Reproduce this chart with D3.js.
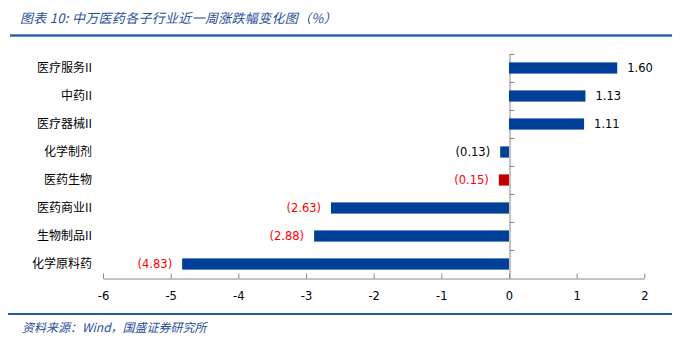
<!DOCTYPE html>
<html><head><meta charset="utf-8">
<script src="https://cdn.jsdelivr.net/npm/d3@7"></script>
<style>
html,body{margin:0;padding:0;background:#fff;}
svg{display:block;}
</style></head>
<body>
<svg id="chart" width="686" height="351"></svg>
<script>
const categories = ["医疗服务II","中药II","医疗器械II","化学制剂","医药生物","医药商业II","生物制品II","化学原料药"];
const values = [1.60, 1.13, 1.11, -0.13, -0.15, -2.63, -2.88, -4.83];
const barColors = ["#003f98","#003f98","#003f98","#003f98","#c00000","#003f98","#003f98","#003f98"];
const labelColors = ["#000","#000","#000","#000","#ff0000","#ff0000","#ff0000","#ff0000"];
const xTicks = [-6,-5,-4,-3,-2,-1,0,1,2];
const titleText = "图表 10:  中万医药各子行业近一周涨跌幅变化图（%）";
const sourceText = "资料来源：Wind，国盛证券研究所";

const svg = d3.select("#chart");
const x = d3.scaleLinear().domain([-6,2]).range([103,644.3]);
const y = d3.scaleBand().domain(categories).range([54,278]).paddingInner(0.6).paddingOuter(0.3);
const yb = d3.scaleBand().domain(categories).range([54,278]);

// title
svg.append("text").attr("x",20).attr("y",23)
  .attr("font-family","'Noto Sans CJK SC', sans-serif").attr("font-size",13)
  .attr("font-style","italic").attr("letter-spacing",0.3).attr("fill","#1f4e9a").text(titleText);
svg.append("line").attr("x1",10).attr("x2",672).attr("y1",35.5).attr("y2",35.5)
  .attr("stroke","#2f62ad").attr("stroke-width",2.5);

// bottom
svg.append("line").attr("x1",8).attr("x2",672).attr("y1",314).attr("y2",314)
  .attr("stroke","#1f5aa8").attr("stroke-width",2);
svg.append("text").attr("x",22).attr("y",332)
  .attr("font-family","'Noto Sans CJK SC', sans-serif").attr("font-size",12)
  .attr("font-style","italic").attr("fill","#1f4e9a").text(sourceText);

// x axis
const xAxis = d3.axisBottom(x).tickValues(xTicks).tickSizeInner(-5).tickSizeOuter(0).tickPadding(13)
  .tickFormat(d => String(d));
const gx = svg.append("g").attr("transform","translate(0,278.5)").call(xAxis);
gx.select(".domain").attr("stroke","#888");
gx.selectAll(".tick line").attr("stroke","#888");
gx.selectAll(".tick text").attr("font-family","'DejaVu Sans', sans-serif").attr("font-size",11.5).attr("fill","#000");

// zero axis with category ticks
const yAxis = d3.axisRight(yb).tickSize(0).tickFormat("");
const gy = svg.append("g").attr("transform",`translate(${Math.round(x(0))+0.5},0)`).call(yAxis);
gy.select(".domain").attr("stroke","#888");
gy.selectAll(".bt").data(d3.range(categories.length)).enter().append("line")
  .attr("x1",0).attr("x2",5)
  .attr("y1",i=>Math.round(54+i*yb.step())+0.5).attr("y2",i=>Math.round(54+i*yb.step())+0.5)
  .attr("stroke","#888");

// category labels
svg.selectAll(".cat").data(categories).enter().append("text")
  .attr("x",92).attr("y",d=>y(d)+y.bandwidth()/2).attr("dy","0.36em")
  .attr("text-anchor","end").attr("font-family","'Noto Sans CJK SC', serif").attr("font-size",12)
  .attr("fill","#000").text(d=>d);

// bars
svg.selectAll(".bar").data(values).enter().append("rect")
  .attr("x",v=>x(Math.min(0,v))).attr("width",v=>Math.abs(x(v)-x(0)))
  .attr("y",(v,i)=>y(categories[i])).attr("height",y.bandwidth())
  .attr("fill",(v,i)=>barColors[i]);

// value labels
const fmt = v => v<0 ? `(${Math.abs(v).toFixed(2)})` : v.toFixed(2);
svg.selectAll(".val").data(values).enter().append("text")
  .attr("x",v=>v<0 ? x(v)-10 : x(v)+10)
  .attr("y",(v,i)=>y(categories[i])+y.bandwidth()/2).attr("dy","0.36em")
  .attr("text-anchor",v=>v<0?"end":"start")
  .attr("font-family","'DejaVu Sans', sans-serif").attr("font-size",11.5)
  .attr("fill",(v,i)=>labelColors[i]).text(fmt);
</script>
</body></html>
